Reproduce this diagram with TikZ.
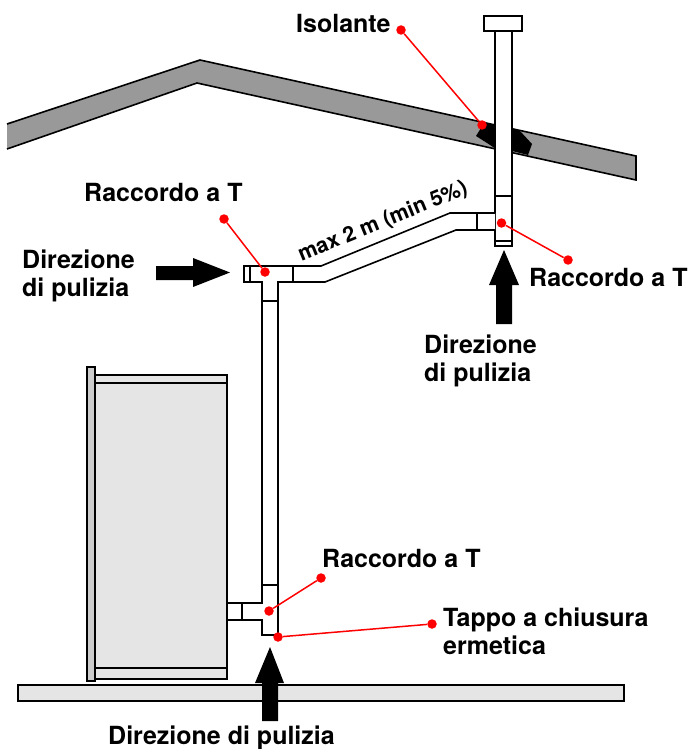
\documentclass[tikz,border=0pt]{standalone}
\usepackage{fontspec}
\setmainfont{TeX Gyre Heros}
\definecolor{roofgrey}{HTML}{999999}
\definecolor{lightgrey}{HTML}{E5E5E5}
\definecolor{stripgrey}{HTML}{CCCCCC}
\definecolor{leader}{HTML}{FF0000}
\tikzset{
  line/.style={draw=black,line width=1.6pt,line join=miter},
  pipe/.style={line,fill=white},
  roof/.style={line,fill=roofgrey},
  unit/.style={draw=black,line width=1.7pt,fill=lightgrey},
  bigarrow/.style={fill=black,draw=none},
  dot/.style={circle,fill=leader,draw=none,minimum size=9.5pt,inner sep=0pt},
  leaderline/.style={draw=leader,line width=1.5pt},
  lbl/.style={font=\fontsize{25}{28}\selectfont\bfseries,inner sep=0pt,anchor=base west,align=left,text=black},
}
\begin{document}
\begin{tikzpicture}[x=1pt,y=-1pt]
\useasboundingbox (0,0) rectangle (690,749);
% floor
\path[unit,line width=1.5pt] (18,685) rectangle (624,701);
% heater
\path[unit] (95,375) rectangle (227,679);
\draw[line width=1.7pt] (95,383) -- (227,383) (95,668) -- (227,668);
\path[unit,fill=stripgrey] (87,367) rectangle (95,681);
% roof
\fill[roofgrey] (7,124) -- (200,60) -- (636,156) -- (636,180) -- (197,83) -- (7,149) -- cycle;
\draw[line] (7,124) -- (200,60) -- (636,156) -- (636,180) -- (197,83) -- (7,149);
% insulation
\fill[black] (482,122) -- (496,125) -- (496,149) -- (487,143) -- (476,136) -- (481,128) -- cycle;
\fill[black] (512,129) -- (520,131) -- (532,144) -- (528,155) -- (512,151) -- cycle;
% flue
\path[pipe] (495,31) rectangle (512,246);
\path[pipe] (484,16) rectangle (522,31);
\draw[line] (495,196) -- (512,196) (495,241) -- (512,241);
% sloped connection
\path[pipe] (495,213) -- (450,213) -- (321,266) -- (293,266) -- (293,282) -- (325,282) -- (456,230) -- (495,230);
\draw[line] (477,213) -- (477,230);
% upper tee
\path[pipe] (293,266) -- (244,266) -- (244,282) -- (262,282) -- (262,585) -- (278,585) -- (278,282) -- (293,282) -- cycle;
\draw[line] (250,266) -- (250,282) (262,301) -- (278,301);
% lower tee
\path[pipe] (262,585) -- (262,603) -- (227,603) -- (227,620) -- (262,620) -- (262,635) -- (278,635) -- (278,585) -- cycle;
\draw[line] (242,603) -- (242,620);
\draw[line width=2.2pt] (262,585) -- (278,585);
% arrows
\fill[bigarrow] (270,647) -- (284,683) -- (278,683) -- (278,721) -- (262,721) -- (262,683) -- (255,683) -- cycle;
\fill[bigarrow] (504,250) -- (519,285) -- (512,285) -- (512,324) -- (496,324) -- (496,285) -- (489,285) -- cycle;
\fill[bigarrow] (230,272.5) -- (193,258) -- (193,266) -- (156,266) -- (156,280) -- (193,280) -- (193,287) -- cycle;
% leaders
\node[dot] (d1a) at (401,30) {};
\node[dot] (d1b) at (482,125) {};
\node[dot] (d2a) at (568,260) {};
\node[dot] (d2b) at (501.5,223) {};
\node[dot] (d3a) at (224,219) {};
\node[dot] (d3b) at (265,272) {};
\node[dot] (d4a) at (321,578) {};
\node[dot] (d4b) at (269,611) {};
\node[dot] (d5a) at (432,624) {};
\node[dot] (d5b) at (278,637) {};
\draw[leaderline] (d1a) -- (d1b);
\draw[leaderline] (d2a) -- (d2b);
\draw[leaderline] (d3a) -- (d3b);
\draw[leaderline] (d4a) -- (d4b);
\draw[leaderline] (d5a) -- (d5b);
% labels
\node[lbl] (t1) at (296,33) {Isolante};
\node[lbl] (t2) at (84,201.7) {Raccordo a T};
\node[lbl] (t3) at (22,296) {Direzione\\di pulizia};
\node[lbl,rotate=22.3,anchor=center,font=\fontsize{21.4}{24}\selectfont\bfseries] (t4) at (383,222) {max 2 m (min 5\%)};
\node[lbl] (t5) at (529,286) {Raccordo a T};
\node[lbl] (t6) at (424,381) {Direzione\\di pulizia};
\node[lbl] (t7) at (322,567) {Raccordo a T};
\node[lbl] (t8) at (443,654) {Tappo a chiusura\\ermetica};
\node[lbl] (t9) at (108,744.3) {Direzione di pulizia};
\end{tikzpicture}
\end{document}
